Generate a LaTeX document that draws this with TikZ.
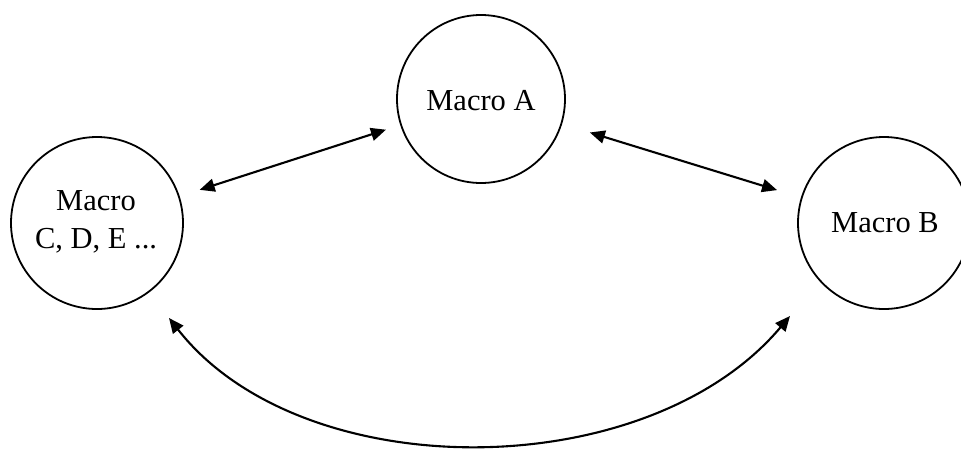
\documentclass[tikz,border=0pt]{standalone}
\usepackage{fontspec}
\setmainfont{Liberation Serif}
\usetikzlibrary{arrows.meta,calc}
\begin{document}
\begin{tikzpicture}[x=1pt,y=-1pt,
  macro/.style={draw=black, line width=1.8pt, circle, inner sep=0pt, minimum size=#1},
  lbl/.style={font=\fontsize{30.5}{38}\selectfont, align=center, inner sep=0pt},
  link/.style={line width=2.1pt, {Triangle[length=15pt,width=13pt]}-{Triangle[length=15pt,width=13pt]}}]
\clip (0,0) rectangle (961,448);
\node[macro=168pt] (A) at (481,99) {};
\node[macro=172pt] (C) at (97,223) {};
\node[macro=172pt] (B) at (884,223) {};
\node[lbl] (tA) at (481,101) {Macro A};
\node[lbl] (tC) at (96,222) {Macro\\C, D, E ...};
\node[lbl] (tB) at (885,223) {Macro B};
\draw[link, shorten <=21pt, shorten >=15pt] (C) -- (A);
\draw[link, shorten <=29pt, shorten >=25pt] (A) -- (B);
\draw[link] ($(C)+(72,95)$) .. controls ($(C)+(205,265)$) and ($(B)+(-237,263)$) .. ($(B)+(-94,93)$);
\end{tikzpicture}
\end{document}
